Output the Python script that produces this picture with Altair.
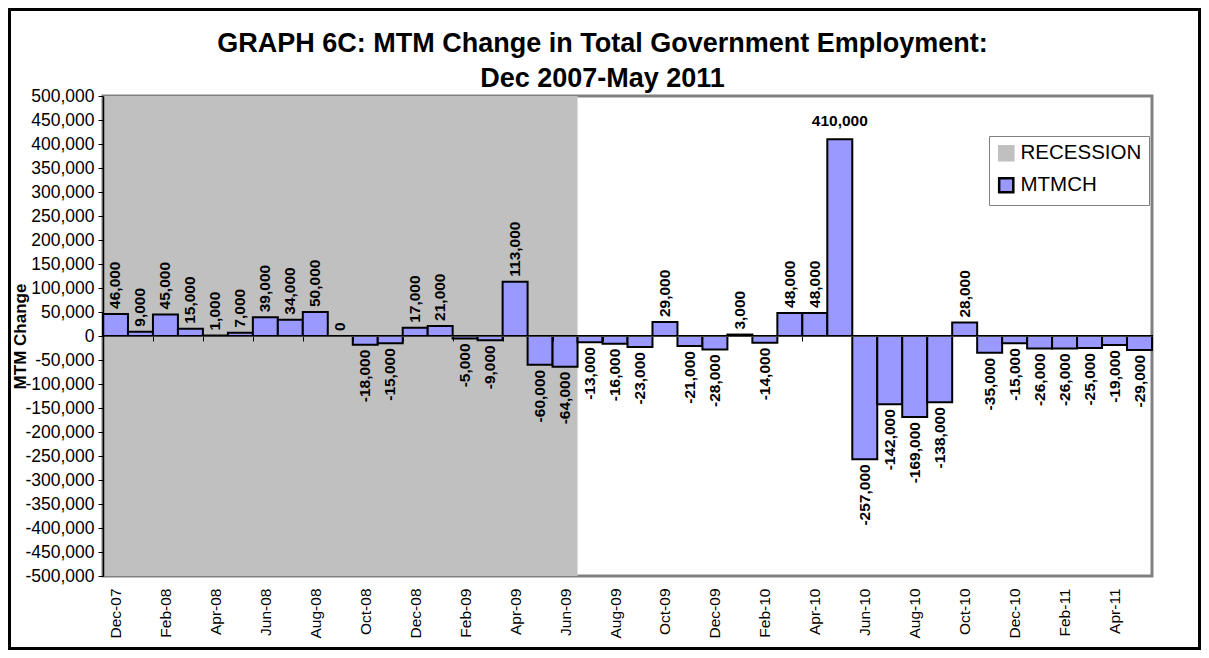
import json
import altair as alt
import pandas as pd

# ---------------- data ----------------
months = [
    "Dec-07", "Jan-08", "Feb-08", "Mar-08", "Apr-08", "May-08", "Jun-08",
    "Jul-08", "Aug-08", "Sep-08", "Oct-08", "Nov-08", "Dec-08", "Jan-09",
    "Feb-09", "Mar-09", "Apr-09", "May-09", "Jun-09", "Jul-09", "Aug-09",
    "Sep-09", "Oct-09", "Nov-09", "Dec-09", "Jan-10", "Feb-10", "Mar-10",
    "Apr-10", "May-10", "Jun-10", "Jul-10", "Aug-10", "Sep-10", "Oct-10",
    "Nov-10", "Dec-10", "Jan-11", "Feb-11", "Mar-11", "Apr-11", "May-11",
]
values = [
    46000, 9000, 45000, 15000, 1000, 7000, 39000,
    34000, 50000, 0, -18000, -15000, 17000, 21000,
    -5000, -9000, 113000, -60000, -64000, -13000, -16000,
    -23000, 29000, -21000, -28000, 3000, -14000, 48000,
    48000, 410000, -257000, -142000, -169000, -138000, 28000,
    -35000, -15000, -26000, -26000, -25000, -19000, -29000,
]
recession_start = "Dec-07"
recession_end = "Jun-09"
y_ticks = list(range(-500000, 500001, 50000))
series_names = ["RECESSION", "MTMCH"]
series_colors = ["#C0C0C0", "#9999FF"]
series_strokes = ["#C0C0C0", "#000000"]
title_lines = ["GRAPH 6C: MTM Change in Total Government Employment:",
               "Dec 2007-May 2011"]

# ---------------- tables ----------------
n = len(months)
df = pd.DataFrame({"month": months, "value": values})
df["start"] = list(range(n))
df["end"] = df["start"] + 1
df["mid"] = df["start"] + 0.5
df["label"] = [f"{v:,}" for v in values]
df["series"] = "MTMCH"

rec = pd.DataFrame({
    "start": [months.index(recession_start)],
    "end": [months.index(recession_end) + 1],
    "lo": [y_ticks[0]],
    "hi": [y_ticks[-1]],
    "series": ["RECESSION"],
})
frame_df = pd.DataFrame({"f": [0]})

# ---------------- styles ----------------
FONT = "Liberation Sans"
W, H = 1049, 480

xscale = alt.Scale(domain=[0, n], nice=False, zero=False)
yscale = alt.Scale(domain=[y_ticks[0], y_ticks[-1]], nice=False, zero=False)
color_scale = alt.Scale(domain=series_names, range=series_colors)
stroke_scale = alt.Scale(domain=series_names, range=series_strokes)

legend = alt.Legend(
    title=None, orient="none", legendX=886, legendY=40,
    fillColor="white", strokeColor="#808080", padding=7,
    symbolType="square", symbolSize=200, symbolStrokeWidth=2.5,
    labelFont=FONT, labelFontSize=20.5, labelColor="black",
    rowPadding=7, labelLimit=300,
)

y_axis = alt.Axis(
    values=y_ticks,
    labelExpr="(datum.value < 0 ? '-' : '') + format(abs(datum.value), ',')",
    labelFont=FONT, labelFontSize=17.5, labelColor="black", labelPadding=4,
    tickColor="black", tickSize=5, domainColor="black", domainWidth=1.5,
    grid=False, title="MTM Change", titleFont=FONT, titleFontSize=17,
    titleFontWeight="bold", titleColor="black", titleX=-83, titleY=H / 2,
    titleAngle=270, titleAlign="center", titleBaseline="middle", zindex=1,
)

zero_axis = alt.Axis(
    orient="bottom",
    values=list(range(0, n + 1, 2)), labels=False, ticks=True, tickSize=5,
    tickColor="black", domain=True, domainColor="#404040", domainWidth=1,
    grid=False, title=None, offset=-H / 2, zindex=1,
)

month_axis = alt.Axis(
    orient="bottom",
    values=[i + 0.5 for i in range(0, n, 2)],
    labelExpr=json.dumps(months) + "[floor(datum.value)]",
    labelAngle=270, labelAlign="right", labelBaseline="middle",
    labelFont=FONT, labelFontSize=15.5, labelColor="black",
    labelPadding=12, labelOverlap=False, labelFlush=False,
    ticks=False, domain=False, grid=False, title=None,
)

# ---------------- layers ----------------
frame = alt.Chart(frame_df).mark_rect(
    fill="transparent", stroke="black", strokeWidth=3
).encode(
    x=alt.value(-93.5), x2=alt.value(1096.5),
    y=alt.value(-86.5), y2=alt.value(552.5),
)

recession = alt.Chart(rec).mark_rect().encode(
    x=alt.X("start:Q", scale=xscale, axis=zero_axis),
    x2="end",
    y=alt.Y("lo:Q", scale=yscale, axis=y_axis),
    y2="hi",
    color=alt.Color("series:N", scale=color_scale, legend=legend),
)

bars = alt.Chart(df).mark_rect(strokeWidth=2).encode(
    x=alt.X("start:Q", scale=xscale, axis=month_axis),
    x2="end",
    y=alt.Y("value:Q", scale=yscale, axis=y_axis),
    y2=alt.datum(0),
    color=alt.Color("series:N", scale=color_scale, legend=legend),
    stroke=alt.Stroke("series:N", scale=stroke_scale, legend=legend),
)

text_style = dict(font=FONT, fontSize=15.5, fontWeight="bold", color="black")

pos_labels = alt.Chart(df).transform_filter(
    "datum.value >= 0 && datum.value < 300000"
).mark_text(angle=270, align="left", baseline="middle", dx=5, **text_style).encode(
    x=alt.X("mid:Q", scale=xscale, axis=None),
    y=alt.Y("value:Q", scale=yscale, axis=y_axis),
    text="label:N",
)

neg_labels = alt.Chart(df).transform_filter(
    "datum.value < 0"
).mark_text(angle=270, align="right", baseline="middle", dx=-5, **text_style).encode(
    x=alt.X("mid:Q", scale=xscale, axis=None),
    y=alt.Y("value:Q", scale=yscale, axis=y_axis),
    text="label:N",
)

big_labels = alt.Chart(df).transform_filter(
    "datum.value >= 300000"
).mark_text(align="center", baseline="bottom", dy=-10, **text_style).encode(
    x=alt.X("mid:Q", scale=xscale, axis=None),
    y=alt.Y("value:Q", scale=yscale, axis=y_axis),
    text="label:N",
)

chart = alt.layer(
    frame, recession, bars, pos_labels, neg_labels, big_labels
).resolve_axis(
    x="independent"
).properties(
    width=W, height=H,
    title=alt.TitleParams(
        text=title_lines, font=FONT, fontSize=27, fontWeight="bold",
        color="black", anchor="middle", frame="group", dx=-25, offset=-112,
        baseline="bottom", lineHeight=35,
    ),
    padding={"left": 95, "top": 88, "right": 49, "bottom": 74},
    autosize=alt.AutoSizeParams(type="none"),
).configure_view(
    stroke="#808080", strokeWidth=3
)

chart.save("out.html", embed_options={"renderer": "svg", "actions": False})
